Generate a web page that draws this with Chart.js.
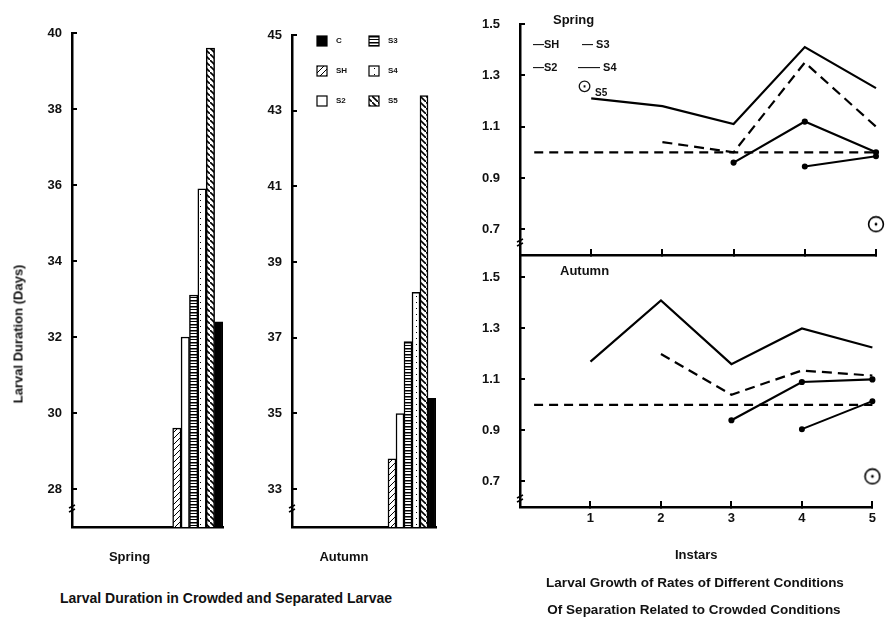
<!DOCTYPE html>
<html>
<head>
<meta charset="utf-8">
<script src="https://cdn.jsdelivr.net/npm/chart.js@4.4.1/dist/chart.umd.min.js"></script>
<style>
  body { margin: 0; background: #fff; }
  #wrap { position: relative; width: 886px; height: 627px; overflow: hidden; background: #fff;
          font-family: "Liberation Sans", Arial, sans-serif; font-weight: bold; color: #111; }
  canvas { position: absolute; }
  .txt { position: absolute; white-space: nowrap; line-height: 1; }
</style>
</head>
<body>
<div id="wrap">
  <canvas id="barSpring" width="230" height="580" style="left:0;top:0"></canvas>
  <canvas id="barAutumn" width="200" height="580" style="left:240px;top:0"></canvas>
  <canvas id="rateSpring" width="416" height="265" style="left:470px;top:0"></canvas>
  <canvas id="rateAutumn" width="416" height="320" style="left:470px;top:247px"></canvas>

  <div class="txt" style="left:18px;top:334px;font-size:13px;transform:translate(-50%,-50%) rotate(-90deg)">Larval Duration (Days)</div>
  <div class="txt" style="left:226px;top:598px;font-size:14px;transform:translate(-50%,-50%)">Larval Duration in Crowded and Separated Larvae</div>

  <div class="txt" style="left:553px;top:13px;font-size:13px">Spring</div>
  <div class="txt" style="left:560px;top:264px;font-size:13px">Autumn</div>
  <div class="txt" style="left:533px;top:39px;font-size:11px">—SH</div>
  <div class="txt" style="left:582px;top:39px;font-size:11px">— S3</div>
  <div class="txt" style="left:533px;top:62px;font-size:11px">—S2</div>
  <div class="txt" style="left:578px;top:62px;font-size:11px">—— S4</div>
  <div class="txt" style="left:577px;top:77px;font-size:18px;font-weight:normal">⊙</div>
  <div class="txt" style="left:595px;top:88px;font-size:10px">S5</div>

  <div class="txt" style="left:695px;top:583px;font-size:13.5px;transform:translate(-50%,-50%)">Larval Growth of Rates of Different Conditions</div>
  <div class="txt" style="left:694px;top:610px;font-size:13.5px;transform:translate(-50%,-50%)">Of Separation Related to Crowded Conditions</div>
</div>

<script>
// --- data ---
const conditions = ['SH', 'S2', 'S3', 'S4', 'S5', 'C'];
const barSlots = ['', '', ''];            // bars sit in the last slot of each axis
const springDuration = [29.6, 32.0, 33.1, 35.9, 39.6, 32.4];
const autumnDuration = [33.8, 35.0, 36.9, 38.2, 43.4, 35.4];
const springDurTicks = [28, 30, 32, 34, 36, 38, 40];
const autumnDurTicks = [33, 35, 37, 39, 41, 43, 45];

const instars = [1, 2, 3, 4, 5];
const rateTicks = [0.7, 0.9, 1.1, 1.3, 1.5];
const crowdedX = [0.2, 5];
const crowdedY = [1.0, 1.0];

const springSH = [1.21, 1.18, 1.11, 1.41, 1.25];
const springS2 = [null, 1.04, 1.00, 1.35, 1.10];
const springS3 = [null, null, 0.96, 1.12, 1.00];
const springS4 = [null, null, null, 0.945, 0.985];
const springS5 = [null, null, null, null, 0.72];

const autumnSH = [1.17, 1.41, 1.16, 1.30, 1.225];
const autumnS2 = [null, 1.20, 1.04, 1.135, 1.115];
const autumnS3 = [null, null, 0.94, 1.09, 1.10];
const autumnS4 = [null, null, null, 0.905, 1.015];
const autumnS5 = [null, null, null, null, 0.72];

const legendOrder = ['C', 'S3', 'SH', 'S4', 'S2', 'S5'];

const FONT = '"Liberation Sans", Arial, sans-serif';
const INK = '#111';

function makePattern(ctx, kind) {
    const c = document.createElement('canvas');
    c.width = c.height = 6;
    const g = c.getContext('2d');
    g.fillStyle = '#fff';
    g.fillRect(0, 0, 6, 6);
    g.strokeStyle = '#000';
    g.fillStyle = '#000';
    g.lineWidth = 1;
    if (kind === 'fwd') {
        g.beginPath(); g.moveTo(-1, 7); g.lineTo(7, -1); g.stroke();
    } else if (kind === 'back') {
        g.lineWidth = 1.6;
        g.beginPath(); g.moveTo(-1, -1); g.lineTo(7, 7); g.stroke();
    } else if (kind === 'horiz') {
        g.fillRect(0, 0, 6, 1.5);
        g.fillRect(0, 3, 6, 1);
    } else if (kind === 'dots') {
        g.fillRect(2, 2, 1, 1);
    } else if (kind === 'solid') {
        g.fillRect(0, 0, 6, 6);
    }
    return ctx.createPattern(c, 'repeat');
}

const fills = { SH: 'fwd', S2: 'plain', S3: 'horiz', S4: 'dots', S5: 'back', C: 'solid' };

const barLegend = {
    id: 'barLegend',
    afterDraw(chart) {
        const { ctx, chartArea } = chart;
        ctx.save();
        legendOrder.forEach((name, k) => {
            const ds = chart.data.datasets.find(d => d.label === name);
            const x = chartArea.left + 25 + (k % 2) * 52;
            const y = chartArea.top + 1 + Math.floor(k / 2) * 30;
            ctx.fillStyle = ds.backgroundColor;
            ctx.fillRect(x, y, 10, 10);
            ctx.strokeStyle = '#000';
            ctx.lineWidth = 1.2;
            ctx.strokeRect(x, y, 10, 10);
            ctx.fillStyle = INK;
            ctx.font = 'bold 8px ' + FONT;
            ctx.textBaseline = 'middle';
            ctx.fillText(name, x + 19, y + 5);
        });
        ctx.restore();
    }
};

// little "axis break" marks near the foot of the value axis
const axisBreak = {
    id: 'axisBreak',
    afterDraw(chart, args, opts) {
        const { ctx, chartArea } = chart;
        const x = chartArea.left;
        const y = chartArea.bottom - (opts.gap || 20);
        ctx.save();
        ctx.strokeStyle = '#000';
        ctx.lineWidth = 1.6;
        ctx.beginPath();
        ctx.moveTo(x - 3, y + 1); ctx.lineTo(x + 3, y - 2);
        ctx.moveTo(x - 3, y + 5); ctx.lineTo(x + 3, y + 2);
        ctx.stroke();
        ctx.restore();
    }
};

function barChart(id, season, values, ticks, yMin, yMax, axisWidth, padTop, padRight, labelShift, plugins) {
    const canvas = document.getElementById(id);
    const ctx = canvas.getContext('2d');
    const last = barSlots.length - 1;
    const datasets = conditions.map((name, i) => ({
        label: name,
        data: barSlots.map((s, j) => j === last ? values[i] : null),
        backgroundColor: name === 'C' ? '#000' : makePattern(ctx, fills[name]),
        borderColor: '#000',
        borderWidth: 1.5,
        categoryPercentage: 1,
        barPercentage: 1
    }));
    return new Chart(ctx, {
        type: 'bar',
        data: { labels: barSlots, datasets: datasets },
        plugins: [axisBreak].concat(plugins),
        options: {
            responsive: false,
            animation: false,
            layout: { padding: { top: padTop, right: padRight, left: 0, bottom: 0 } },
            plugins: { legend: { display: false }, tooltip: { enabled: false }, axisBreak: { gap: 20 } },
            scales: {
                x: {
                    grid: { display: false, drawTicks: false },
                    border: { color: '#000', width: 2.5 },
                    ticks: {
                        color: INK, font: { family: FONT, weight: 'bold', size: 13 },
                        padding: 23, labelOffset: labelShift, maxRotation: 0, autoSkip: false,
                        callback: (v, i) => i === 1 ? season : ''
                    },
                    afterFit: s => { s.height = 53; }
                },
                y: {
                    min: yMin, max: yMax,
                    afterBuildTicks: s => { s.ticks = ticks.map(v => ({ value: v })); },
                    grid: { drawOnChartArea: false, drawTicks: true, tickLength: -5, color: '#000', lineWidth: 2 },
                    border: { color: '#000', width: 2.5 },
                    ticks: { color: INK, font: { family: FONT, weight: 'bold', size: 13 }, padding: 15 },
                    afterFit: s => { s.width = axisWidth; }
                }
            }
        }
    });
}

// the "S5" circle marker
function ringMarker() {
    const c = document.createElement('canvas');
    c.width = c.height = 18;
    const g = c.getContext('2d');
    g.strokeStyle = '#000';
    g.lineWidth = 1.6;
    g.beginPath(); g.arc(9, 9, 7.4, 0, Math.PI * 2); g.stroke();
    g.fillStyle = '#000';
    g.beginPath(); g.arc(9, 9, 1.4, 0, Math.PI * 2); g.fill();
    return c;
}

function points(xs, ys) {
    return xs.map((x, i) => ({ x: x, y: ys[i] })).filter(p => p.y !== null);
}

function rateChart(id, series, yMax, padTop, xHeight, showLabels, breakGap) {
    const ring = ringMarker();
    const datasets = [
        { label: 'C', data: points(crowdedX, crowdedY), borderDash: [9, 6], borderWidth: 2.2, pointRadius: 0 },
        { label: 'SH', data: points(instars, series.SH), borderWidth: 2.2, pointRadius: 0 },
        { label: 'S2', data: points(instars, series.S2), borderDash: [10, 6], borderWidth: 2.2, pointRadius: 0 },
        { label: 'S3', data: points(instars, series.S3), borderWidth: 2.2, pointRadius: 2, pointBackgroundColor: '#000' },
        { label: 'S4', data: points(instars, series.S4), borderWidth: 2, pointRadius: 2, pointBackgroundColor: '#000' },
        { label: 'S5', data: points(instars, series.S5), showLine: false, pointStyle: ring, pointRadius: 9 }
    ].map(d => Object.assign({ borderColor: '#000', backgroundColor: '#000', fill: false, tension: 0, clip: false }, d));

    const xScale = {
        type: 'linear', min: 0, max: 5,
        afterBuildTicks: s => { s.ticks = instars.map(v => ({ value: v })); },
        grid: { drawOnChartArea: false, drawTicks: true, tickLength: -6, color: '#000', lineWidth: 2 },
        border: { color: '#000', width: 2.5 },
        ticks: { display: showLabels, color: INK, font: { family: FONT, weight: 'bold', size: 13 }, padding: 10 },
        afterFit: s => { s.height = xHeight; }
    };
    if (showLabels) {
        xScale.title = { display: true, text: 'Instars', color: INK, font: { family: FONT, weight: 'bold', size: 13 }, padding: { top: 0, bottom: 4 } };
    }

    return new Chart(document.getElementById(id), {
        type: 'line',
        data: { datasets: datasets },
        plugins: [axisBreak],
        options: {
            responsive: false,
            animation: false,
            layout: { padding: { top: padTop, right: 8, left: 12, bottom: 0 } },
            plugins: { legend: { display: false }, tooltip: { enabled: false }, axisBreak: { gap: breakGap } },
            scales: {
                x: xScale,
                y: {
                    min: 0.6, max: yMax,
                    afterBuildTicks: s => { s.ticks = rateTicks.map(v => ({ value: v })); },
                    grid: { drawOnChartArea: false, drawTicks: true, tickLength: -5, color: '#000', lineWidth: 2 },
                    border: { color: '#000', width: 2.5 },
                    ticks: { color: INK, font: { family: FONT, weight: 'bold', size: 13 }, padding: 0, crossAlign: 'far', callback: v => v.toFixed(1) },
                    afterFit: s => { s.width = 38; }
                }
            }
        }
    });
}

barChart('barSpring', 'Spring', springDuration, springDurTicks, 27, 40, 72, 33, 7, -18, []);
barChart('barAutumn', 'Autumn', autumnDuration, autumnDurTicks, 32, 45, 52, 35, 4, -20, [barLegend]);

rateChart('rateSpring', { SH: springSH, S2: springS2, S3: springS3, S4: springS4, S5: springS5 }, 1.5, 24, 8, false, 14);
rateChart('rateAutumn', { SH: autumnSH, S2: autumnS2, S3: autumnS3, S4: autumnS4, S5: autumnS5 }, 1.58, 10, 60, true, 10);
</script>
</body>
</html>
